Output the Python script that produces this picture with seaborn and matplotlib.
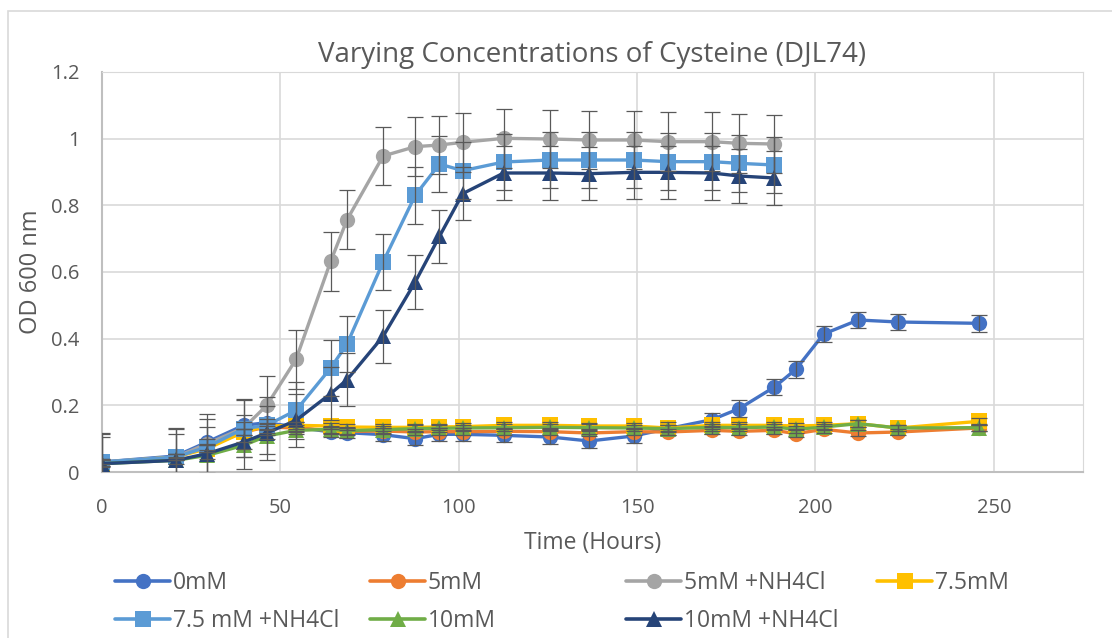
import numpy as np
import pandas as pd
import matplotlib
matplotlib.use("Agg")
import matplotlib.pyplot as plt
from matplotlib.lines import Line2D
from matplotlib.patches import Rectangle
import seaborn as sns

# time points (hours)
hours = [0, 20.7, 29.5, 39.7, 46.2, 54.4, 64.1, 68.7, 78.8, 87.8, 94.6, 101.1,
         112.6, 125.6, 136.6, 149.0, 158.6, 171.0, 178.6, 188.5,
         194.5, 202.3, 212.0, 223.2, 245.8]

series_names = ["0mM", "5mM", "5mM +NH4Cl", "7.5mM", "7.5 mM +NH4Cl", "10mM", "10mM +NH4Cl"]

od_0mM = [0.030, 0.048, 0.090, 0.140, 0.148, 0.135, 0.120, 0.118, 0.112, 0.100, 0.113, 0.113,
          0.110, 0.105, 0.093, 0.108, 0.130, 0.157, 0.190, 0.255, 0.308, 0.414, 0.456, 0.450, 0.446]
od_5mM = [0.028, 0.045, 0.075, 0.120, 0.135, 0.132, 0.125, 0.122, 0.123, 0.120, 0.121, 0.121,
          0.122, 0.121, 0.117, 0.121, 0.120, 0.125, 0.122, 0.125, 0.115, 0.128, 0.117, 0.120, 0.132]
od_5mM_nh4 = [0.030, 0.045, 0.085, 0.132, 0.200, 0.338, 0.632, 0.757, 0.948, 0.976, 0.981, 0.989,
              1.001, 0.999, 0.996, 0.996, 0.991, 0.991, 0.986, 0.984]
od_75mM = [0.028, 0.045, 0.070, 0.120, 0.138, 0.140, 0.138, 0.135, 0.134, 0.134, 0.135, 0.136,
           0.140, 0.140, 0.138, 0.138, 0.132, 0.140, 0.140, 0.140, 0.138, 0.140, 0.145, 0.132, 0.152]
od_75mM_nh4 = [0.030, 0.045, 0.075, 0.130, 0.140, 0.185, 0.312, 0.384, 0.630, 0.830, 0.924, 0.904,
               0.930, 0.936, 0.936, 0.936, 0.931, 0.931, 0.926, 0.921]
od_10mM = [0.025, 0.035, 0.050, 0.080, 0.108, 0.125, 0.128, 0.124, 0.127, 0.130, 0.131, 0.132,
           0.133, 0.134, 0.133, 0.132, 0.130, 0.134, 0.133, 0.135, 0.128, 0.135, 0.145, 0.132, 0.133]
od_10mM_nh4 = [0.025, 0.035, 0.055, 0.090, 0.117, 0.155, 0.235, 0.277, 0.407, 0.570, 0.707, 0.835,
               0.897, 0.897, 0.895, 0.899, 0.899, 0.897, 0.888, 0.882]

err_0mM = [0.005, 0.005, 0.01, 0.01, 0.01, 0.015, 0.015, 0.015, 0.02, 0.02, 0.02, 0.02,
           0.02, 0.02, 0.02, 0.02, 0.02, 0.02, 0.025, 0.025, 0.025, 0.025, 0.025, 0.025, 0.025]
err_small = 0.01
err_5mM_nh4 = 0.088
err_75mM_nh4 = 0.085
err_10mM_nh4 = 0.08

values = [od_0mM, od_5mM, od_5mM_nh4, od_75mM, od_75mM_nh4, od_10mM, od_10mM_nh4]
errors = [err_0mM, err_small, err_5mM_nh4, err_small, err_75mM_nh4, err_small, err_10mM_nh4]

colors = ["#4472C4", "#ED7D31", "#A5A5A5", "#FFC000", "#5B9BD5", "#70AD47", "#264478"]
markers = ["o", "o", "o", "s", "s", "^", "^"]

rows = []
for name, vals, err in zip(series_names, values, errors):
    e = err if isinstance(err, list) else [err] * len(vals)
    for t, v, ee in zip(hours, vals, e):
        rows.append({"Time": t, "OD": v, "err": ee, "Series": name})
df = pd.DataFrame(rows)

sns.set_style("white")
plt.rcParams["font.family"] = ["Open Sans", "DejaVu Sans"]
text_color = "#595959"

fig = plt.figure(figsize=(11.12, 6.38), dpi=100)
ax = fig.add_axes([102 / 1112, 1 - 472 / 638, (1083 - 102) / 1112, 400 / 638])

# chart area border
fig.patches.append(Rectangle((8 / 1112, -0.01), 1.1, 1 - 11 / 638 + 0.01,
                             transform=fig.transFigure, fill=False,
                             edgecolor="#D9D9D9", linewidth=1.2))

for i, name in enumerate(series_names):
    sub = df[df["Series"] == name]
    sns.lineplot(data=sub, x="Time", y="OD", ax=ax, color=colors[i], marker=markers[i],
                 markersize=11, markeredgewidth=0, linewidth=2.4, legend=False,
                 sort=False, errorbar=None, zorder=3 + i)
    ax.errorbar(sub["Time"], sub["OD"], yerr=sub["err"], fmt="none",
                ecolor="#595959", elinewidth=0.9, capsize=5.5, capthick=0.9, zorder=20)

ax.set_xlim(0, 275)
ax.set_ylim(0, 1.2)
ax.set_xticks([0, 50, 100, 150, 200, 250])
ax.set_yticks([0, 0.2, 0.4, 0.6, 0.8, 1, 1.2])
ax.set_yticklabels(["0", "0.2", "0.4", "0.6", "0.8", "1", "1.2"])
ax.grid(True, color="#D9D9D9", linewidth=1.2)
ax.set_axisbelow(True)
for side in ["top", "right"]:
    ax.spines[side].set_color("#D9D9D9")
for side in ["left", "bottom"]:
    ax.spines[side].set_color("#BFBFBF")
    ax.spines[side].set_linewidth(1.5)
ax.tick_params(axis="both", length=0, labelsize=14.5, colors=text_color)
ax.tick_params(axis="x", pad=19)
ax.tick_params(axis="y", pad=16)

ax.set_title("Varying Concentrations of Cysteine (DJL74)", fontsize=20, color=text_color, pad=7)
ax.set_xlabel("Time (Hours)", fontsize=16.5, color=text_color, labelpad=9)
ax.set_ylabel("OD 600 nm", fontsize=17, color=text_color, labelpad=6)

handles = [Line2D([0], [0], color=colors[i], marker=markers[i], markersize=11,
                  markeredgewidth=0, linewidth=2.6) for i in range(len(series_names))]

# Excel-style legend: evenly spaced columns, filled row by row
col_x = [115, 370, 626, 877]
columns = [[0, 4], [1, 5], [2, 6], [3]]
for cx, idx in zip(col_x, columns):
    leg = fig.legend([handles[k] for k in idx], [series_names[k] for k in idx],
                     loc="upper left", bbox_to_anchor=(cx / 1112, 1 - 571 / 638),
                     frameon=False, fontsize=16.5, handlelength=2.4, handletextpad=0.12,
                     labelspacing=0.6, labelcolor=text_color,
                     borderaxespad=0, borderpad=0)

fig.savefig("out.png", dpi=100)
